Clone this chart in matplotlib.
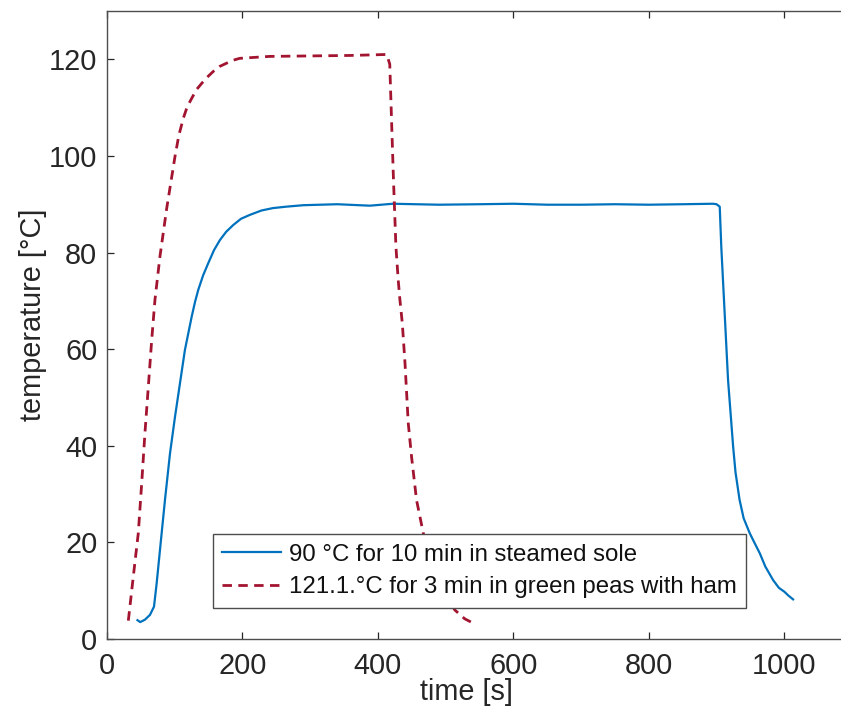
import matplotlib
matplotlib.use("Agg")
import matplotlib.pyplot as plt

plt.rcParams['font.family'] = ['Liberation Sans', 'DejaVu Sans']
plt.rcParams['lines.scale_dashes'] = False

# Core temperature histories
sole_time = [45, 49, 56, 63.5, 69.4, 73.3, 78.2, 85.6, 93, 100.4, 107.7, 115, 125,
             130, 134.8, 142, 149.5, 158, 166.8, 176, 186.4, 198, 211, 228, 245, 265,
             290, 340, 388, 422, 490, 550, 600, 650, 700, 750, 800, 850, 895, 900,
             904.7, 907, 912, 917, 924.5, 928, 934, 940, 949, 955, 964, 972, 983.5,
             992, 1000, 1006, 1013]
sole_temp = [3.9, 3.5, 4.0, 5.0, 6.7, 11.5, 18.4, 28.8, 38.4, 46.0, 52.9, 59.8, 66.7,
             69.8, 72.3, 75.3, 77.8, 80.5, 82.6, 84.3, 85.7, 87.0, 87.8, 88.7, 89.2, 89.5,
             89.8, 90.0, 89.7, 90.1, 89.9, 90.0, 90.1, 89.9, 89.9, 90.0, 89.9, 90.0, 90.1, 90.0,
             89.5, 81.2, 67.4, 53.6, 39.8, 34.5, 28.8, 25.0, 21.9, 20.2, 17.7, 15.0, 12.2,
             10.6, 9.8, 9.0, 8.2]

peas_time = [31.5, 38.8, 46.2, 51.2, 56, 61, 66, 70.8, 78.2, 88, 100.4, 106, 112.7,
             118.5, 125, 132, 139.7, 148, 157, 166, 176.6, 186, 196, 240, 300, 360,
             413, 417.5, 420, 423, 426.6, 430, 432.5, 436, 440, 444.8, 449.7, 457,
             467, 487, 500, 513.6, 528, 543]
peas_temp = [3.8, 12.9, 21.9, 32.2, 42.6, 52.2, 61.9, 70.2, 79.2, 89.0, 99.9, 104.2, 107.8,
             110.2, 111.9, 113.7, 115.0, 116.3, 117.5, 118.5, 119.2, 119.8, 120.2, 120.6,
             120.7, 120.8, 121.0, 119.0, 108.0, 95.0, 81.2, 74.3, 70.2, 65.4, 57.1, 44.7,
             37.7, 28.8, 21.9, 13.0, 9.0, 6.0, 4.2, 3.1]

labels = ["90 \u00b0C for 10 min in steamed sole",
          "121.1.\u00b0C for 3 min in green peas with ham"]

x_ticks = [0, 200, 400, 600, 800, 1000]
y_ticks = [0, 20, 40, 60, 80, 100, 120]

W, H = 841, 722
fig = plt.figure(figsize=(W / 100, H / 100), dpi=100)
ax_left, ax_right, ax_top, ax_bottom = 107, 852, 11, 639
ax_w, ax_h = ax_right - ax_left, ax_bottom - ax_top
ax = fig.add_axes([ax_left / W, 1 - ax_bottom / H, ax_w / W, ax_h / H])

blue = '#0072BD'
red = '#A2142F'
ax.plot(sole_time, sole_temp, color=blue, lw=1.6, label=labels[0])
ax.plot(peas_time, peas_temp, color=red, lw=2.0, linestyle=(0, (6.8, 4.6)),
        label=labels[1])

ax.set_xlim(0, 1100)
ax.set_ylim(0, 130)
ax.set_xticks(x_ticks)
ax.set_yticks(y_ticks)

axis_gray = '#262626'
for sp in ax.spines.values():
    sp.set_color('#4d4d4d')
    sp.set_linewidth(1.0)
ax.spines['right'].set_visible(False)
ax.tick_params(direction='in', length=5, width=0.9, color='#262626',
               labelsize=20.8, labelcolor=axis_gray, top=True, right=False)
ax.tick_params(axis='x', pad=9)
ax.tick_params(axis='y', pad=7)

ax.set_xlabel('time [s]', fontsize=20.8, color=axis_gray)
ax.set_ylabel('temperature [\u00b0C]', fontsize=20.8, color=axis_gray)
ax.xaxis.set_label_coords((466 - ax_left) / ax_w, -(692 - ax_bottom) / ax_h)
ax.yaxis.set_label_coords(-(ax_left - 33) / ax_w, (ax_bottom - 315) / ax_h)
ax.xaxis.label.set_va('center')
ax.yaxis.label.set_va('center')

leg = ax.legend(loc='lower left', bbox_to_anchor=((212.5 - ax_left) / ax_w, (ax_bottom - 608) / ax_h),
                borderaxespad=0, fontsize=17.3, handlelength=2.45, handletextpad=0.33,
                borderpad=0.4, labelspacing=0.45, fancybox=False, framealpha=1,
                edgecolor='#4d4d4d')
leg.get_frame().set_linewidth(1.0)
for t in leg.get_texts():
    t.set_color('#111111')

fig.savefig('out.png', dpi=100)
